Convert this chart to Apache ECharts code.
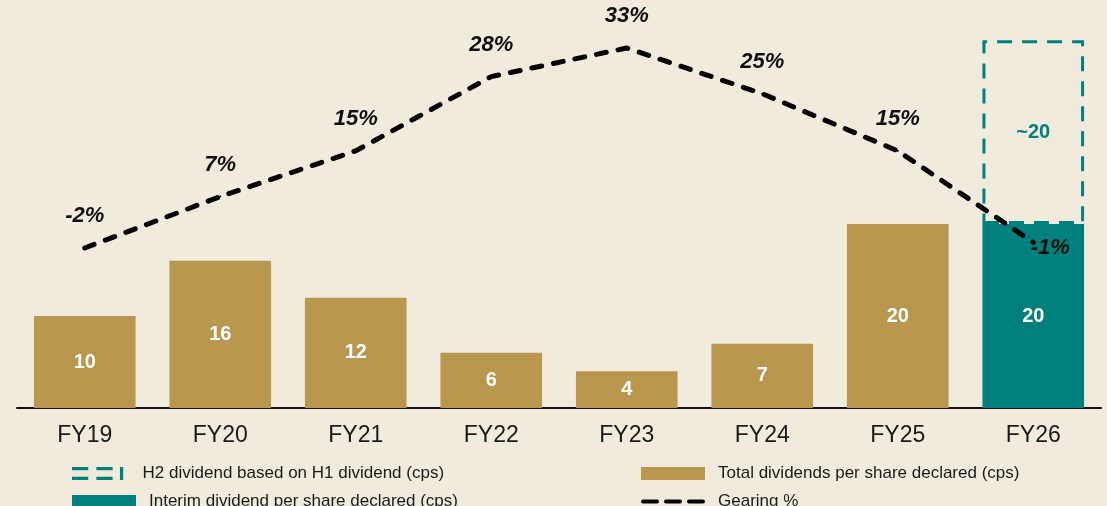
<!DOCTYPE html>
<html>
<head>
<meta charset="utf-8">
<style>
  html, body { margin: 0; padding: 0; background: #F0EBDC; }
  #chart { width: 1107px; height: 506px; }
</style>
<script src="https://cdn.jsdelivr.net/npm/echarts@6/dist/echarts.min.js"></script>
</head>
<body>
<div id="chart"></div>
<script>
var categories = ['FY19', 'FY20', 'FY21', 'FY22', 'FY23', 'FY24', 'FY25', 'FY26'];
var totalDiv = [10, 16, 12, 6, 4, 7, 20, '-'];
var interimDiv = ['-', '-', '-', '-', '-', '-', '-', 20];
var h2Div = ['-', '-', '-', '-', '-', '-', '-', 20];
var gearing = [-2, 7, 15, 28, 33, 25, 15, -1];

var GOLD = '#BA974F';
var TEAL = '#00807D';
var FONT = '"Liberation Sans", Arial, sans-serif';

var chart = echarts.init(document.getElementById('chart'));

// 最后一个点的标签放在右下
var gearingData = gearing.map(function (v, i) {
    if (i === gearing.length - 1) {
        return {value: v, label: {position: 'bottom', distance: 0, offset: [17, -6]}};
    }
    return v;
});

// 图例：每项单独放
function legendItem(left, top, item) {
    return {
        left: left, top: top, itemWidth: 64, itemHeight: 13,
        textStyle: {fontFamily: FONT, fontSize: 17, color: '#1a1a1a', padding: [0, 0, 0, 8]},
        data: [item]
    };
}

var option = {
    backgroundColor: '#F0EBDC',
    animation: false,
    grid: {left: 17, right: 6, top: 8, bottom: 98},
    legend: [
        legendItem(67, 460, {name: 'H2 dividend based on H1 dividend (cps)',
            icon: 'path://M0,0h20v4h-20z M0,12h20v4h-20z M30,0h20v4h-20z M30,12h20v4h-20z M59,0h4v16h-4z',
            itemStyle: {color: TEAL, borderWidth: 0}}),
        legendItem(67, 488, {name: 'Interim dividend per share declared (cps)', icon: 'rect'}),
        legendItem(636, 460, {name: 'Total dividends per share declared (cps)', icon: 'rect'}),
        legendItem(636, 488, {name: 'Gearing %',
            icon: 'path://M2,0h14a2,2 0 0 1 0,4h-14a2,2 0 0 1 0,-4z M25,0h14a2,2 0 0 1 0,4h-14a2,2 0 0 1 0,-4z M48,0h14a2,2 0 0 1 0,4h-14a2,2 0 0 1 0,-4z',
            itemStyle: {color: '#000'}})
    ],
    xAxis: {
        type: 'category',
        data: categories,
        axisLine: {lineStyle: {color: '#111', width: 2}},
        axisTick: {show: false},
        axisLabel: {fontFamily: FONT, fontSize: 23, color: '#1a1a1a', margin: 16}
    },
    yAxis: [
        {type: 'value', min: 0, max: 43.5, show: false, splitLine: {show: false}},
        {type: 'value', min: -30, max: 40, show: false, splitLine: {show: false}}
    ],
    series: [
        {
            name: 'Total dividends per share declared (cps)',
            type: 'bar', stack: 'div', barWidth: '75%',
            data: totalDiv,
            itemStyle: {color: GOLD},
            label: {show: true, position: 'inside', color: '#fff', fontFamily: FONT, fontWeight: 'bold', fontSize: 20}
        },
        {
            name: 'Interim dividend per share declared (cps)',
            type: 'bar', stack: 'div', barWidth: '75%',
            data: interimDiv,
            itemStyle: {color: TEAL},
            label: {show: true, position: 'inside', color: '#fff', fontFamily: FONT, fontWeight: 'bold', fontSize: 20}
        },
        {
            name: 'H2 dividend based on H1 dividend (cps)',
            type: 'bar', stack: 'div', barWidth: '75%',
            data: h2Div,
            itemStyle: {color: 'transparent', borderColor: TEAL, borderWidth: 3, borderType: [15, 10]},
            label: {show: true, position: 'inside', color: TEAL, fontFamily: FONT, fontWeight: 'bold', fontSize: 20,
                    formatter: '~{c}'}
        },
        {
            name: 'Gearing %',
            type: 'line', yAxisIndex: 1, z: 5,
            data: gearingData,
            symbol: 'circle', symbolSize: 2,
            itemStyle: {color: '#000'},
            lineStyle: {color: '#000', width: 5, type: [10, 12], cap: 'round'},
            label: {show: true, position: 'top', distance: 20, formatter: '{c}%',
                    fontFamily: FONT, fontWeight: 'bold', fontStyle: 'italic', fontSize: 22, color: '#111'}
        }
    ]
};

chart.setOption(option);
</script>
</body>
</html>
